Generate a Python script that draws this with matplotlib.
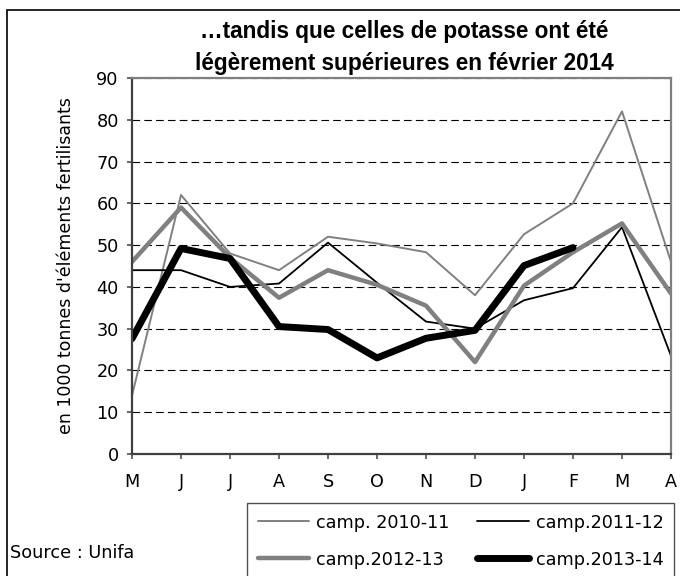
import numpy as np
import matplotlib.pyplot as plt
from matplotlib.patches import Rectangle

# Data (1000 t of fertiliser elements, potash)
months = ['M', 'J', 'J', 'A', 'S', 'O', 'N', 'D', 'J', 'F', 'M', 'A']
camp_2010_11 = [14, 62, 48, 44, 52, 50.4, 48.3, 38, 52.6, 60, 82, 46]
camp_2011_12 = [44, 44, 40, 40.8, 50.6, 41, 31.7, 30, 36.8, 39.7, 54.3, 23.5]
camp_2012_13 = [46, 59, 47, 37.4, 44, 40.5, 35.5, 22, 40.3, 48.3, 55.2, 38.4]
camp_2013_14 = [27.6, 49.2, 46.8, 30.5, 29.8, 23, 27.7, 29.6, 45.1, 49.4]
labels = ['camp. 2010-11', 'camp.2011-12', 'camp.2012-13', 'camp.2013-14']
yticks = [0, 10, 20, 30, 40, 50, 60, 70, 80, 90]

# Plot settings
plt.rcParams['font.family'] = 'DejaVu Sans'
plt.rcParams['font.size'] = 12.7
plt.rcParams['lines.scale_dashes'] = False

W, H = 680, 576
fig = plt.figure(figsize=(W / 100, H / 100), dpi=100)
fig.patch.set_facecolor('white')
ax = fig.add_axes([132 / W, 1 - 454 / H, (671 - 132) / W, (454 - 78) / H])

x = np.arange(len(months))
styles = [('#808080', 1.4), ('black', 1.3), ('#808080', 3.2), ('black', 5.0)]
series = [camp_2010_11, camp_2011_12, camp_2012_13, camp_2013_14]
lines = []
for vals, (c, lw), lab in zip(series, styles, labels):
    l, = ax.plot(x[:len(vals)], vals, color=c, lw=lw, label=lab,
                 solid_joinstyle='round', solid_capstyle='round')
    lines.append(l)

ax.set_xlim(0, len(months) - 1)
ax.set_ylim(0, 90)
ax.set_xticks(x)
ax.set_xticklabels(months)
ax.set_yticks(yticks)
ax.yaxis.grid(True, color='black', lw=0.8, linestyle=(0, (5.5, 3)))
ax.set_axisbelow(True)
ax.tick_params(direction='out', length=3.6, width=1.1, color='#404040')
ax.tick_params(axis='y', pad=6)
ax.tick_params(axis='x', pad=10)

for s in ['top', 'right']:
    ax.spines[s].set_color('#808080')
    ax.spines[s].set_linewidth(1.6)
for s in ['left', 'bottom']:
    ax.spines[s].set_color('#404040')
    ax.spines[s].set_linewidth(1.6)

ax.set_ylabel("en 1000 tonnes d'éléments fertilisants", fontsize=12.5)
ax.yaxis.set_label_coords((75 - 132) / 539, 0.5)

# Title
fig.text(404 / W, 1 - 38 / H, '…tandis que celles de potasse ont été',
         ha='center', va='baseline', fontweight='bold', fontsize=16.3,
         family='Liberation Sans')
fig.text(404 / W, 1 - 70 / H, 'légèrement supérieures en février 2014',
         ha='center', va='baseline', fontweight='bold', fontsize=16.3,
         family='Liberation Sans')

# Source
fig.text(10 / W, 1 - 553 / H, 'Source : Unifa', ha='left', va='center')

# Legend (row order as in the chart)
order = [0, 2, 1, 3]
leg = fig.legend([lines[i] for i in order], [labels[i] for i in order],
                 ncol=2, loc='upper left', bbox_to_anchor=(247 / W, 1 - 503 / H),
                 borderaxespad=0, frameon=True, fancybox=False, framealpha=1,
                 edgecolor='#505050', handlelength=2.9, handletextpad=0.4,
                 labelspacing=1.08, columnspacing=1.6, borderpad=0.6)
leg.get_frame().set_linewidth(1.0)

# Outer chart border
fig.patches.append(Rectangle((7 / W, -0.2), 1.2, 1.2 - 10 / H, transform=fig.transFigure,
                             fill=False, edgecolor='black', lw=1.2))

plt.savefig('out.png', dpi=100)
